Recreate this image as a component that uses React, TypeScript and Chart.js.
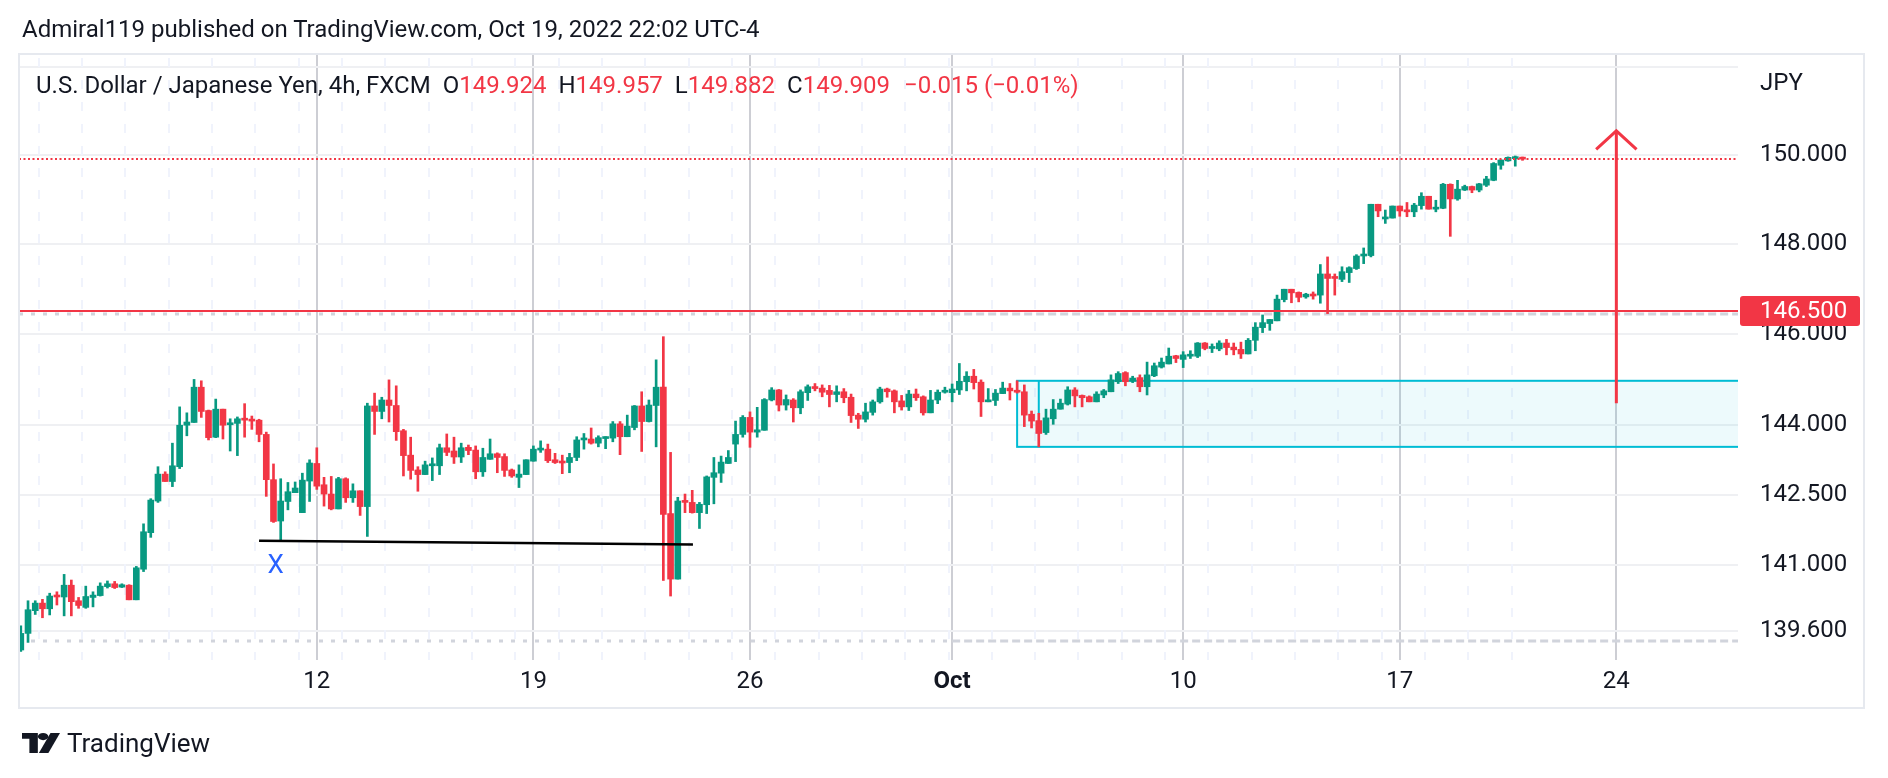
import React, { useEffect, useRef } from 'react';
import { Chart, registerables } from 'chart.js';

Chart.register(...registerables);
Chart.defaults.font.family = 'Roboto';

// ---- 4h candles (USD/JPY, FXCM) ----
const opens = [
  139.19, 139.54, 140.02, 140.18, 140.06, 140.33, 140.31, 140.56, 140.23, 140.09,
  140.30, 140.34, 140.53, 140.59, 140.52, 140.56, 140.25, 140.90, 141.68, 142.36,
  142.94, 142.78, 143.10, 144.00, 144.06, 144.83, 144.32, 143.74, 144.35, 144.01,
  144.04, 144.14, 144.12, 144.11, 143.80, 142.82, 141.93, 142.35, 142.54, 142.11,
  142.79, 143.17, 142.71, 142.51, 142.19, 142.84, 142.43, 142.58, 142.24, 144.42,
  144.30, 144.55, 144.43, 143.88, 143.35, 143.03, 142.93, 143.12, 143.12, 143.51,
  143.44, 143.31, 143.52, 143.46, 142.99, 143.26, 143.38, 143.32, 143.03, 142.87,
  142.93, 143.22, 143.46, 143.48, 143.25, 143.20, 143.19, 143.30, 143.68, 143.70,
  143.61, 143.71, 143.72, 144.03, 143.75, 143.95, 144.42, 144.08, 144.43, 144.83,
  142.09, 140.69, 142.36, 142.33, 142.11, 142.28, 142.87, 142.96, 143.17, 143.59,
  143.80, 144.17, 143.85, 143.89, 144.55, 144.77, 144.44, 144.55, 144.38, 144.71,
  144.84, 144.81, 144.76, 144.67, 144.73, 144.61, 144.22, 144.13, 144.28, 144.51,
  144.79, 144.75, 144.53, 144.40, 144.68, 144.62, 144.27, 144.55, 144.72, 144.71,
  144.77, 144.95, 145.07, 144.94, 144.51, 144.54, 144.69, 144.81, 144.76, 144.73,
  144.24, 144.10, 143.84, 144.14, 144.35, 144.46, 144.77, 144.65, 144.62, 144.51,
  144.66, 144.73, 144.95, 145.15, 144.96, 145.04, 144.84, 145.08, 145.27, 145.34,
  145.52, 145.44, 145.51, 145.51, 145.80, 145.68, 145.67, 145.80, 145.71, 145.66,
  145.56, 145.86, 146.14, 146.23, 146.29, 146.76, 146.99, 146.92, 146.82, 146.86,
  146.86, 147.33, 147.25, 147.21, 147.36, 147.45, 147.73, 147.74, 148.89, 148.56,
  148.58, 148.85, 148.76, 148.72, 148.86, 149.07, 148.78, 148.80, 149.34, 149.01,
  149.21, 149.29, 149.21, 149.32, 149.43, 149.77, 149.87, 149.92, 149.924,
];
const highs = [
  139.70, 140.23, 140.23, 140.26, 140.39, 140.42, 140.79, 140.67, 140.30, 140.54,
  140.42, 140.61, 140.65, 140.64, 140.59, 140.57, 140.96, 141.87, 142.41, 143.10,
  142.99, 143.61, 144.40, 144.27, 145.00, 144.97, 144.33, 144.57, 144.35, 144.14,
  144.18, 144.47, 144.20, 144.13, 143.85, 143.16, 142.84, 142.76, 142.77, 142.96,
  143.25, 143.51, 142.87, 142.89, 142.87, 142.86, 142.73, 142.58, 144.48, 144.70,
  144.61, 144.99, 144.86, 143.91, 143.74, 143.10, 143.22, 143.29, 143.59, 143.81,
  143.74, 143.61, 143.57, 143.55, 143.50, 143.70, 143.40, 143.38, 143.05, 143.14,
  143.25, 143.55, 143.66, 143.59, 143.39, 143.35, 143.39, 143.75, 143.82, 143.94,
  143.77, 143.75, 144.08, 144.08, 144.22, 144.43, 144.73, 144.55, 145.43, 145.94,
  143.41, 142.44, 142.51, 142.59, 142.33, 142.90, 143.30, 143.33, 143.45, 144.09,
  144.21, 144.29, 144.39, 144.58, 144.82, 144.78, 144.66, 144.58, 144.77, 144.88,
  144.91, 144.88, 144.87, 144.86, 144.80, 144.68, 144.26, 144.48, 144.55, 144.83,
  144.81, 144.77, 144.65, 144.76, 144.79, 144.64, 144.76, 144.77, 144.83, 144.90,
  145.35, 145.17, 145.22, 144.99, 144.80, 144.78, 144.94, 144.91, 144.97, 144.88,
  144.31, 144.26, 144.35, 144.56, 144.57, 144.84, 144.82, 144.66, 144.64, 144.73,
  144.78, 145.10, 145.17, 145.17, 145.07, 145.10, 145.38, 145.36, 145.47, 145.69,
  145.53, 145.61, 145.63, 145.81, 145.81, 145.78, 145.85, 145.88, 145.80, 145.82,
  145.90, 146.25, 146.42, 146.32, 146.86, 146.99, 146.99, 146.93, 146.90, 146.93,
  147.54, 147.71, 147.33, 147.49, 147.49, 147.76, 147.91, 148.89, 148.89, 148.76,
  148.85, 148.85, 148.93, 148.91, 149.15, 149.07, 148.98, 149.36, 149.35, 149.43,
  149.32, 149.30, 149.36, 149.52, 149.83, 149.89, 149.96, 149.98, 149.957,
];
const lows = [
  139.16, 139.35, 139.94, 139.87, 139.93, 140.14, 139.91, 139.91, 140.07, 140.07,
  140.10, 140.33, 140.50, 140.49, 140.51, 140.25, 140.25, 140.85, 141.58, 142.33,
  142.78, 142.67, 143.06, 143.77, 144.06, 144.17, 143.68, 143.73, 143.70, 143.44,
  143.34, 143.74, 143.91, 143.64, 142.46, 141.90, 141.51, 142.17, 142.54, 142.11,
  142.35, 142.61, 142.25, 142.17, 142.19, 142.33, 142.33, 142.05, 141.60, 143.80,
  144.14, 144.07, 143.67, 142.90, 142.83, 142.57, 142.93, 142.80, 142.93, 143.34,
  143.17, 143.19, 143.36, 142.84, 142.89, 143.26, 142.97, 142.89, 142.87, 142.65,
  142.93, 143.22, 143.41, 143.19, 143.17, 142.95, 142.97, 143.23, 143.48, 143.59,
  143.53, 143.49, 143.64, 143.36, 143.75, 143.90, 143.43, 144.07, 143.53, 140.66,
  140.33, 140.69, 142.11, 142.10, 141.77, 142.09, 142.30, 142.76, 143.17, 143.21,
  143.74, 143.52, 143.74, 143.89, 144.53, 144.31, 144.33, 144.07, 144.25, 144.54,
  144.75, 144.62, 144.40, 144.51, 144.49, 144.06, 143.93, 144.07, 144.22, 144.48,
  144.61, 144.27, 144.33, 144.32, 144.54, 144.22, 144.27, 144.47, 144.70, 144.51,
  144.67, 144.75, 144.79, 144.19, 144.51, 144.43, 144.69, 144.55, 144.70, 143.97,
  143.94, 143.53, 143.80, 144.02, 144.35, 144.44, 144.40, 144.40, 144.51, 144.51,
  144.60, 144.73, 144.91, 144.86, 144.93, 144.73, 144.66, 145.06, 145.25, 145.34,
  145.37, 145.26, 145.46, 145.48, 145.65, 145.59, 145.63, 145.54, 145.54, 145.46,
  145.56, 145.63, 146.03, 146.08, 146.29, 146.71, 146.69, 146.71, 146.79, 146.77,
  146.68, 146.45, 146.86, 147.16, 147.14, 147.43, 147.56, 147.71, 148.61, 148.46,
  148.58, 148.62, 148.61, 148.61, 148.78, 148.78, 148.72, 148.79, 148.17, 148.98,
  149.20, 149.15, 149.17, 149.29, 149.42, 149.68, 149.86, 149.75, 149.882,
];
const closes = [
  139.54, 140.04, 140.18, 140.06, 140.33, 140.31, 140.56, 140.21, 140.13, 140.32,
  140.35, 140.54, 140.59, 140.51, 140.57, 140.25, 140.93, 141.70, 142.38, 142.94,
  142.78, 143.12, 144.00, 144.07, 144.83, 144.30, 143.73, 144.35, 144.00, 144.05,
  144.14, 144.11, 144.09, 143.80, 142.82, 141.92, 142.36, 142.56, 142.64, 142.81,
  143.18, 142.68, 142.51, 142.19, 142.84, 142.43, 142.58, 142.24, 144.42, 144.30,
  144.55, 144.43, 143.86, 143.34, 143.02, 142.93, 143.14, 143.15, 143.51, 143.41,
  143.31, 143.51, 143.45, 142.99, 143.30, 143.38, 143.30, 143.02, 142.90, 142.94,
  143.25, 143.48, 143.48, 143.23, 143.19, 143.18, 143.30, 143.68, 143.70, 143.61,
  143.73, 143.74, 144.03, 143.75, 143.98, 144.42, 144.08, 144.44, 144.83, 142.07,
  140.69, 142.36, 142.33, 142.11, 142.29, 142.88, 142.97, 143.20, 143.30, 143.80,
  144.17, 143.85, 143.90, 144.56, 144.77, 144.44, 144.56, 144.38, 144.73, 144.84,
  144.80, 144.72, 144.67, 144.73, 144.60, 144.21, 144.13, 144.29, 144.51, 144.79,
  144.73, 144.51, 144.40, 144.68, 144.60, 144.27, 144.55, 144.72, 144.75, 144.79,
  144.96, 145.07, 144.93, 144.51, 144.54, 144.70, 144.81, 144.75, 144.72, 144.22,
  144.09, 143.82, 144.16, 144.35, 144.48, 144.77, 144.64, 144.60, 144.51, 144.68,
  144.75, 144.99, 145.13, 144.95, 145.03, 144.84, 145.10, 145.30, 145.38, 145.51,
  145.46, 145.54, 145.54, 145.80, 145.68, 145.70, 145.80, 145.70, 145.65, 145.56,
  145.86, 146.15, 146.25, 146.32, 146.77, 146.99, 146.91, 146.81, 146.88, 146.84,
  147.33, 147.23, 147.23, 147.38, 147.47, 147.73, 147.76, 148.89, 148.74, 148.59,
  148.85, 148.74, 148.72, 148.87, 149.07, 148.78, 148.81, 149.34, 149.01, 149.23,
  149.29, 149.21, 149.35, 149.46, 149.81, 149.89, 149.95, 149.94, 149.909,
];

// ---- axes ----
const weekTicks = [41, 71, 101, 129, 161, 191, 221];
const weekLabels = ['12', '19', '26', 'Oct', '10', '17', '24'];
const monthTick = 129;
const priceTicks = [152, 150, 148, 146, 144, 142.5, 141, 139.6];
const priceLabels = ['', '150.000', '148.000', '146.000', '144.000', '142.500', '141.000', '139.600'];
const dayBreaks = [
  2.5, 8.5, 14.5, 20.5, 26.5, 32.5, 38.5, 44.5, 50.5, 56.5, 62.5, 68.5,
  74.5, 80.5, 86.5, 92.5, 98.5, 104.5, 110.5, 116.5, 122.5, 128.5, 134.5,
  140.5, 146.5, 152.5, 158.5, 164.5, 170.5, 176.5, 182.5, 188.5, 194.5, 200.5, 206.5,
];
const indexRange = [-0.25, 237.85];
const priceRange = [138.98, 152.31];

// ---- drawings ----
const levelPrice = 146.5;
const levelLabel = '146.500';
const lastClose = 149.909;
const greyLevels = [146.43, 139.37];
const greySwitchIndex = 129;
const zoneIndex = [138, 260];
const zonePrices = [143.53, 144.97];
const zoneMarker = [141, 144.26];
const trendIndex = [33.0, 93.1];
const trendPrices = [141.51, 141.43];
const markPoint = [35.3, 140.96];
const markText = 'X';
const arrowIndex = 221;
const arrowPrices = [144.48, 150.55];
const arrowWing = [2.8, 150.13];

const UP = '#089981';
const DOWN = '#f23645';
const TEXT = '#131722';

const drawingsPlugin = {
  id: 'drawings',
  beforeDatasetsDraw(chart: any) {
    const { ctx, chartArea: a, scales } = chart;
    const x = scales.x, y = scales.y;
    ctx.save();
    ctx.beginPath();
    ctx.rect(a.left, a.top, a.right - a.left, a.bottom - a.top);
    ctx.clip();
    // faint day separators
    ctx.strokeStyle = '#f0f3fc';
    ctx.lineWidth = 2;
    ctx.setLineDash([9, 13]);
    ctx.lineDashOffset = -4;
    dayBreaks.forEach((d) => {
      const px = Math.round(x.getPixelForValue(d));
      ctx.beginPath();
      ctx.moveTo(px, a.top);
      ctx.lineTo(px, a.bottom);
      ctx.stroke();
    });
    ctx.lineDashOffset = 0;
    // grey price lines
    ctx.strokeStyle = '#d1d4dc';
    ctx.lineWidth = 3;
    const sw = x.getPixelForValue(greySwitchIndex);
    greyLevels.forEach((p) => {
      const py = Math.round(y.getPixelForValue(p));
      ctx.setLineDash([4, 8]);
      ctx.beginPath();
      ctx.moveTo(a.left, py);
      ctx.lineTo(sw, py);
      ctx.stroke();
      ctx.setLineDash([8, 4]);
      ctx.beginPath();
      ctx.moveTo(sw, py);
      ctx.lineTo(a.right, py);
      ctx.stroke();
    });
    ctx.setLineDash([]);
    // zone rectangle
    const zl = x.getPixelForValue(zoneIndex[0]);
    const zr = x.getPixelForValue(zoneIndex[1]);
    const zt = y.getPixelForValue(zonePrices[1]);
    const zb = y.getPixelForValue(zonePrices[0]);
    ctx.fillStyle = 'rgba(0,188,212,0.07)';
    ctx.fillRect(zl, zt, zr - zl, zb - zt);
    ctx.strokeStyle = '#00bcd4';
    ctx.lineWidth = 2;
    ctx.strokeRect(zl, zt, zr - zl, zb - zt);
    const mx = x.getPixelForValue(zoneMarker[0]);
    ctx.beginPath();
    ctx.moveTo(mx, zt);
    ctx.lineTo(mx, y.getPixelForValue(zoneMarker[1]));
    ctx.stroke();
    ctx.restore();
  },
  afterDatasetsDraw(chart: any) {
    const { ctx, chartArea: a, scales } = chart;
    const x = scales.x, y = scales.y;
    ctx.save();
    ctx.beginPath();
    ctx.rect(a.left, a.top, a.right - a.left, a.bottom - a.top);
    ctx.clip();
    // last price dotted line
    ctx.strokeStyle = DOWN;
    ctx.lineWidth = 2;
    ctx.setLineDash([2, 2.5]);
    const lp = Math.round(y.getPixelForValue(lastClose));
    ctx.beginPath();
    ctx.moveTo(a.left, lp);
    ctx.lineTo(a.right, lp);
    ctx.stroke();
    ctx.setLineDash([]);
    // horizontal level
    const ly = Math.round(y.getPixelForValue(levelPrice));
    ctx.lineWidth = 2;
    ctx.beginPath();
    ctx.moveTo(a.left, ly);
    ctx.lineTo(a.right, ly);
    ctx.stroke();
    // trend line
    ctx.strokeStyle = '#000000';
    ctx.lineWidth = 2.5;
    ctx.beginPath();
    ctx.moveTo(x.getPixelForValue(trendIndex[0]), y.getPixelForValue(trendPrices[0]));
    ctx.lineTo(x.getPixelForValue(trendIndex[1]), y.getPixelForValue(trendPrices[1]));
    ctx.stroke();
    // X mark
    ctx.fillStyle = '#2962ff';
    ctx.font = '26px Roboto';
    ctx.textAlign = 'center';
    ctx.textBaseline = 'middle';
    ctx.fillText(markText, x.getPixelForValue(markPoint[0]), y.getPixelForValue(markPoint[1]));
    // arrow
    const ax = x.getPixelForValue(arrowIndex);
    ctx.strokeStyle = DOWN;
    ctx.lineWidth = 3;
    ctx.beginPath();
    ctx.moveTo(ax, y.getPixelForValue(arrowPrices[0]));
    ctx.lineTo(ax, y.getPixelForValue(arrowPrices[1]));
    ctx.stroke();
    ctx.beginPath();
    ctx.moveTo(x.getPixelForValue(arrowIndex - arrowWing[0]), y.getPixelForValue(arrowWing[1]));
    ctx.lineTo(ax, y.getPixelForValue(arrowPrices[1]));
    ctx.lineTo(x.getPixelForValue(arrowIndex + arrowWing[0]), y.getPixelForValue(arrowWing[1]));
    ctx.stroke();
    ctx.restore();
  },
  afterDraw(chart: any) {
    const { ctx, chartArea: a, scales } = chart;
    const py = Math.round(scales.y.getPixelForValue(levelPrice));
    ctx.save();
    ctx.fillStyle = DOWN;
    ctx.beginPath();
    if (ctx.roundRect) ctx.roundRect(a.right + 2, py - 15, 120, 30, 3);
    else ctx.rect(a.right + 2, py - 15, 120, 30);
    ctx.fill();
    ctx.fillStyle = '#ffffff';
    ctx.font = '24px Roboto';
    ctx.textAlign = 'left';
    ctx.textBaseline = 'middle';
    ctx.fillText(levelLabel, a.right + 22, py + 1);
    ctx.restore();
  },
};

export default function App() {
  const ref = useRef<HTMLCanvasElement>(null);
  useEffect(() => {
    const colors = opens.map((o, i) => (closes[i] >= o ? UP : DOWN));
    const chart = new Chart(ref.current as HTMLCanvasElement, {
      type: 'bar',
      data: {
        datasets: [
          {
            label: 'body',
            data: opens.map((o, i) => ({ x: i, y: [o, closes[i]] })) as any,
            backgroundColor: colors,
            barThickness: 6,
            minBarLength: 2,
            grouped: false,
            order: 0,
          },
          {
            label: 'wick',
            data: lows.map((l, i) => ({ x: i, y: [l, highs[i]] })) as any,
            backgroundColor: colors,
            barThickness: 2,
            minBarLength: 2,
            grouped: false,
            order: 1,
          },
        ],
      },
      options: {
        responsive: false,
        devicePixelRatio: 1,
        animation: false,
        events: [],
        layout: { padding: { left: 19, top: 54, right: 24, bottom: 70 } },
        plugins: { legend: { display: false }, tooltip: { enabled: false }, title: { display: false } },
        scales: {
          x: {
            type: 'linear',
            min: indexRange[0],
            max: indexRange[1],
            offset: false,
            border: { display: false },
            grid: { offset: false, color: '#cdced4', lineWidth: 2, drawTicks: false },
            ticks: {
              autoSkip: false,
              maxRotation: 0,
              minRotation: 0,
              padding: 8,
              color: TEXT,
              font: (c: any) => ({
                family: 'Roboto',
                size: 24,
                weight: c.tick && c.tick.value === monthTick ? 'bold' : 'normal',
              }),
              callback: (v: any) => {
                const k = weekTicks.indexOf(Number(v));
                return k >= 0 ? weekLabels[k] : '';
              },
            },
            afterBuildTicks: (s: any) => {
              s.ticks = weekTicks.map((v) => ({ value: v }));
            },
            afterFit: (s: any) => {
              s.height = 48;
            },
          },
          y: {
            type: 'logarithmic',
            position: 'right',
            min: priceRange[0],
            max: priceRange[1],
            border: { display: false },
            grid: { color: '#eff0f3', lineWidth: 2, drawTicks: false },
            ticks: {
              padding: 22,
              color: TEXT,
              font: { family: 'Roboto', size: 24 },
              callback: (v: any) => {
                const k = priceTicks.indexOf(Number(v));
                return k >= 0 ? priceLabels[k] : '';
              },
            },
            afterBuildTicks: (s: any) => {
              s.ticks = priceTicks.map((v) => ({ value: v }));
            },
            afterFit: (s: any) => {
              s.width = 126;
            },
          },
        },
      } as any,
      plugins: [drawingsPlugin],
    });
    return () => chart.destroy();
  }, []);

  const red = { color: DOWN };
  return (
    <div
      style={{
        position: 'absolute',
        left: 0,
        top: 0,
        width: 1888,
        height: 778,
        background: '#ffffff',
        overflow: 'hidden',
        fontFamily: 'Roboto, sans-serif',
        color: TEXT,
      }}
    >
      <canvas
        ref={ref}
        width={1888}
        height={778}
        style={{ position: 'absolute', left: 0, top: 0, width: 1888, height: 778 }}
      />
      <div
        style={{
          position: 'absolute',
          left: 18,
          top: 53,
          width: 1847,
          height: 656,
          border: '2px solid #e6e9ef',
          boxSizing: 'border-box',
          pointerEvents: 'none',
        }}
      />
      <div style={{ position: 'absolute', left: 22, top: 15, fontSize: 24, lineHeight: '28px', whiteSpace: 'nowrap' }}>
        Admiral119 published on TradingView.com, Oct 19, 2022 22:02 UTC-4
      </div>
      <div style={{ position: 'absolute', left: 36, top: 71, fontSize: 24, lineHeight: '28px', whiteSpace: 'nowrap' }}>
        <span>U.S. Dollar / Japanese Yen, 4h, FXCM</span>
        <span style={{ marginLeft: 12 }}>O</span>
        <span style={red}>149.924</span>
        <span style={{ marginLeft: 12 }}>H</span>
        <span style={red}>149.957</span>
        <span style={{ marginLeft: 12 }}>L</span>
        <span style={red}>149.882</span>
        <span style={{ marginLeft: 12 }}>C</span>
        <span style={red}>149.909</span>
        <span style={{ ...red, marginLeft: 14 }}>−0.015 (−0.01%)</span>
      </div>
      <div style={{ position: 'absolute', left: 1760, top: 68, fontSize: 24, lineHeight: '28px' }}>JPY</div>
      <div style={{ position: 'absolute', left: 22, top: 729, display: 'flex', alignItems: 'center', height: 28 }}>
        <svg width={38} height={20} viewBox="0 0 36 28" preserveAspectRatio="none">
          <path d="M0 0 H15 V28 H7 V8 H0 Z" fill={TEXT} />
          <circle cx={20} cy={5} r={5} fill={TEXT} />
          <path d="M27 0 H36 L25 28 H16 Z" fill={TEXT} />
        </svg>
        <span style={{ marginLeft: 7, fontSize: 26, lineHeight: '28px' }}>TradingView</span>
      </div>
    </div>
  );
}
